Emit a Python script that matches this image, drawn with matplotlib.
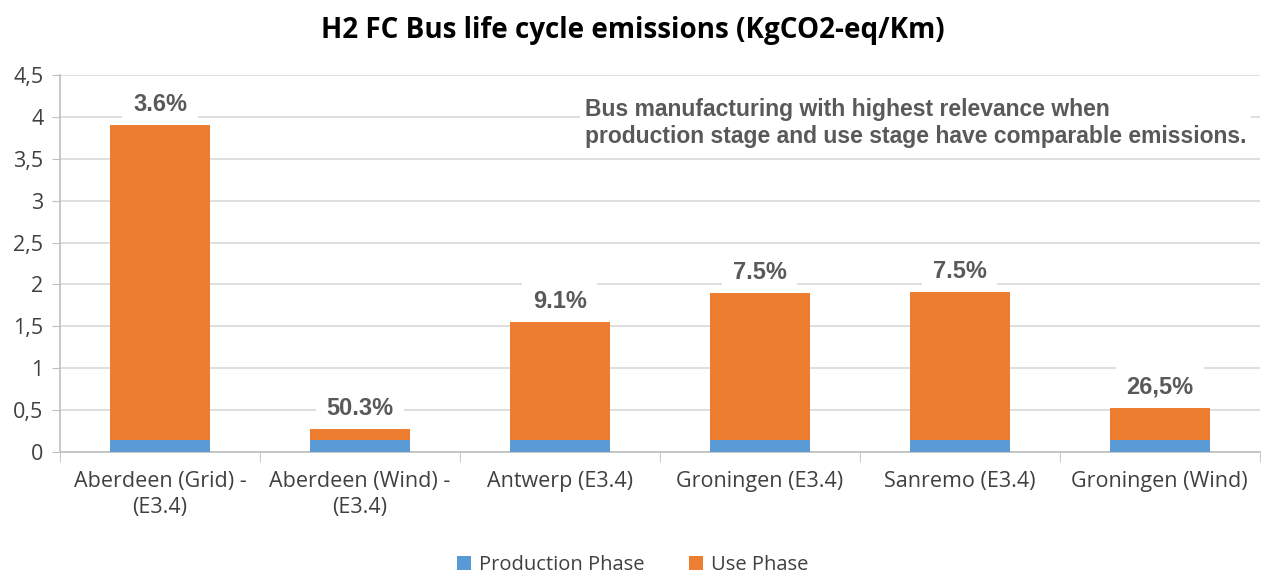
import matplotlib
matplotlib.use("Agg")
import matplotlib.pyplot as plt
import numpy as np

categories = ["Aberdeen (Grid) -\n(E3.4)", "Aberdeen (Wind) -\n(E3.4)", "Antwerp (E3.4)",
              "Groningen (E3.4)", "Sanremo (E3.4)", "Groningen (Wind)"]
production = [0.14, 0.14, 0.14, 0.14, 0.14, 0.14]
use_phase = [3.76, 0.135, 1.41, 1.76, 1.77, 0.385]
pct_labels = ["3.6%", "50.3%", "9.1%", "7.5%", "7.5%", "26,5%"]
yticks = [0, 0.5, 1, 1.5, 2, 2.5, 3, 3.5, 4, 4.5]
ytick_labels = ["0", "0,5", "1", "1,5", "2", "2,5", "3", "3,5", "4", "4,5"]

blue = "#5b9bd5"
orange = "#ed7d31"
grid_c = "#d9d9d9"
txt_c = "#404040"

fig = plt.figure(figsize=(12.66, 5.77), dpi=100)
ax = fig.add_axes([0.0474, 0.2166, 0.9476, 0.6534])

x = np.arange(len(categories))
ax.bar(x, production, width=0.5, color=blue, label="Production Phase", zorder=3)
ax.bar(x, use_phase, width=0.5, bottom=production, color=orange, label="Use Phase", zorder=3)

totals = np.array(production) + np.array(use_phase)
for xi, t, lab in zip(x, totals, pct_labels):
    ax.annotate(lab, (xi, t), xytext=(0, 15), textcoords="offset points",
                ha="center", va="center", fontsize=17, fontweight="bold",
                color="#595959", family="Liberation Sans", zorder=2.5,
                bbox=dict(boxstyle="square,pad=0.45", fc="white", ec="none"))

ax.set_xlim(-0.5, len(categories) - 0.5)
ax.set_ylim(0, 4.5)
ax.set_yticks(yticks)
ax.set_yticklabels(ytick_labels, fontsize=15.5, color=txt_c, family="Open Sans")
ax.set_xticks(x)
ax.set_xticklabels(categories, fontsize=15.5, color=txt_c, family="Open Sans", linespacing=1.3)
ax.tick_params(axis="x", length=0, pad=14)
ax.set_xticks(np.arange(-0.5, len(categories), 1), minor=True)
ax.tick_params(axis="x", which="minor", length=7, color="#bfbfbf")
ax.tick_params(axis="y", length=6, color="#bfbfbf", pad=6)

ax.yaxis.grid(True, color=grid_c, linewidth=1.2, zorder=0)
ax.set_axisbelow(True)
for s in ["top", "right"]:
    ax.spines[s].set_visible(False)
ax.spines["left"].set_color("#bfbfbf")
ax.spines["bottom"].set_color("#bfbfbf")
ax.spines["left"].set_linewidth(1.2)
ax.spines["bottom"].set_linewidth(1.2)

fig.text(0.5, 0.948, "H2 FC Bus life cycle emissions (KgCO2-eq/Km)", ha="center", va="center",
         fontsize=20, fontweight="bold", color="black", family="Open Sans")

ax.text(0.4375, 0.873, "Bus manufacturing with highest relevance when\nproduction stage and use stage have comparable emissions.",
        transform=ax.transAxes, ha="left", va="center", fontsize=16.5, fontweight="bold",
        color="#595959", family="Liberation Sans", linespacing=1.25, zorder=5,
        bbox=dict(boxstyle="square,pad=0.2", fc="white", ec="none"))

leg = fig.legend(loc="center", bbox_to_anchor=(0.5, 0.02), ncol=2, frameon=False,
                 handlelength=0.7, handleheight=0.7, handletextpad=0.4, columnspacing=2.2,
                 prop={"family": "Open Sans", "size": 14.5})
for t in leg.get_texts():
    t.set_color(txt_c)

fig.savefig("out.png", dpi=100)
